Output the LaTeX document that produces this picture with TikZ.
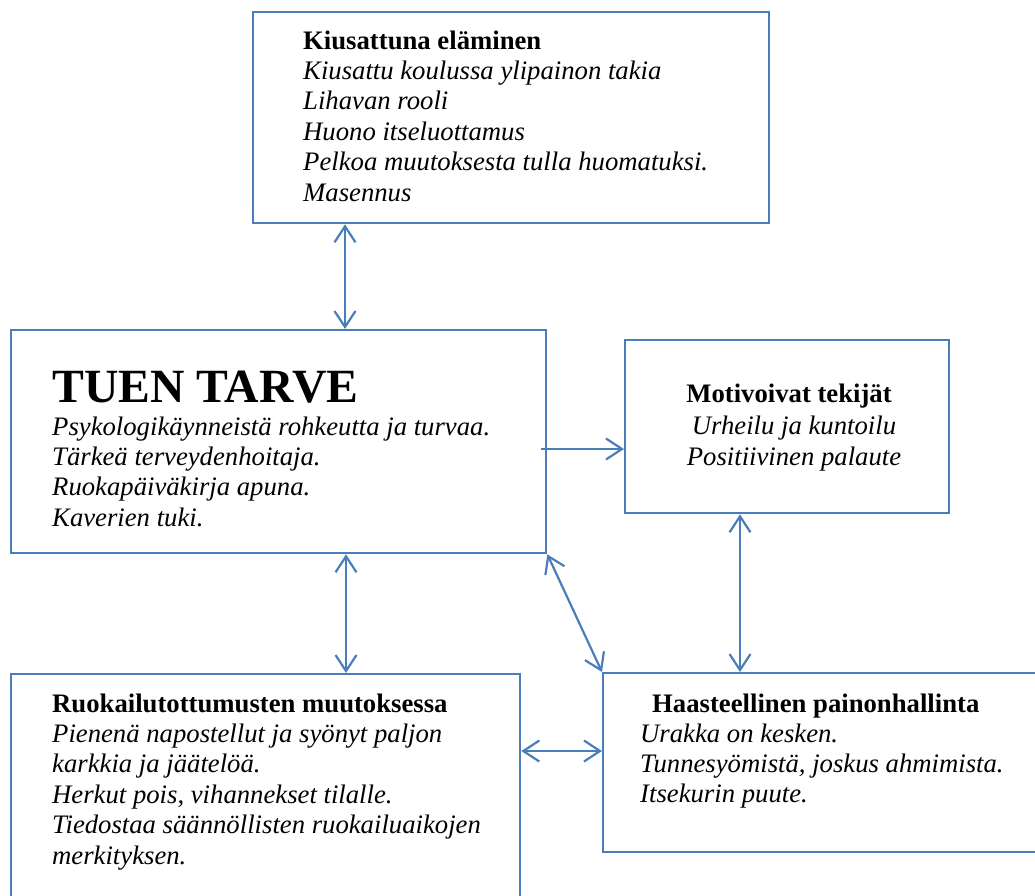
\documentclass[tikz,border=0pt]{standalone}
\usepackage{fontspec}
\setmainfont{Liberation Serif}
\usetikzlibrary{arrows.meta}
\definecolor{boxblue}{RGB}{74,126,187}
\begin{document}
\begin{tikzpicture}[x=1pt,y=-1pt,
  box/.style={draw=boxblue,line width=2.3pt,rectangle,inner sep=0pt,anchor=north west},
  barb/.tip={Straight Barb[length=16pt,width=21pt]},
  link/.style={draw=boxblue,line width=2.2pt,barb-barb},
  oneway/.style={draw=boxblue,line width=2.2pt,-barb},
  txt/.style={inner sep=0pt,anchor=base west,font=\fontsize{26.7}{30.4}\selectfont},
]
\useasboundingbox (0,0) rectangle (1035,895);
\clip (0,0) rectangle (1035,895);
% boxes
\node[box,minimum width=516pt,minimum height=211pt] (kius) at (252,11) {};
\node[box,minimum width=535pt,minimum height=223pt] (tuen) at (10,329) {};
\node[box,minimum width=324pt,minimum height=173pt] (motiv) at (624,339) {};
\node[box,minimum width=509pt,minimum height=240pt] (ruoka) at (10,673) {};
\node[box,minimum width=450pt,minimum height=179pt] (haast) at (602,672) {};
% texts
\node[txt] (kiust) at (303,49) {\begin{tabular}[t]{@{}l@{}}\textbf{Kiusattuna eläminen}\\
\itshape Kiusattu koulussa ylipainon takia\\
\itshape Lihavan rooli\\
\itshape Huono itseluottamus\\
\itshape Pelkoa muutoksesta tulla huomatuksi.\\
\itshape Masennus\end{tabular}};
\node[inner sep=0pt,anchor=base west,font=\fontsize{47.7}{52}\selectfont\bfseries] (tuent) at (52,402) {TUEN TARVE};
\node[txt] (tuenb) at (52,435) {\begin{tabular}[t]{@{}l@{}}\itshape Psykologikäynneistä rohkeutta ja turvaa.\\
\itshape Tärkeä terveydenhoitaja.\\
\itshape Ruokapäiväkirja apuna.\\
\itshape Kaverien tuki.\end{tabular}};
\node[inner sep=0pt,anchor=base,font=\fontsize{26.7}{31.5}\selectfont\bfseries] (motivt) at (789,402) {Motivoivat tekijät};
\node[inner sep=0pt,anchor=base,font=\fontsize{26.7}{31.5}\selectfont] (motivb) at (794,434) {\begin{tabular}[t]{@{}c@{}}\itshape Urheilu ja kuntoilu\\
\itshape Positiivinen palaute\end{tabular}};
\node[txt] (ruokat) at (52,712) {\begin{tabular}[t]{@{}l@{}}\textbf{Ruokailutottumusten muutoksessa}\\
\itshape Pienenä napostellut ja syönyt paljon\\
\itshape karkkia ja jäätelöä.\\
\itshape Herkut pois, vihannekset tilalle.\\
\itshape Tiedostaa säännöllisten ruokailuaikojen\\
\itshape merkityksen.\end{tabular}};
\node[txt,font=\fontsize{26.7}{30.4}\selectfont\bfseries] (haastt) at (652,712) {Haasteellinen painonhallinta};
\node[txt] (haastb) at (640,742) {\begin{tabular}[t]{@{}l@{}}\itshape Urakka on kesken.\\
\itshape Tunnesyömistä, joskus ahmimista.\\
\itshape Itsekurin puute.\end{tabular}};
% connectors
\coordinate (c1) at (345,0);
\coordinate (c2) at (541,449);
\coordinate (c3) at (740,0);
\coordinate (c4) at (346,0);
\coordinate (c5) at (0,751);
\draw[link] (kius.south -| c1) -- (tuen.north -| c1);
\draw[oneway] (c2) -- (motiv.west |- c2);
\draw[link] (motiv.south -| c3) -- (haast.north -| c3);
\draw[link] (tuen.south -| c4) -- (ruoka.north -| c4);
\draw[link] (tuen.south east) -- (haast.north west);
\draw[link] (ruoka.east |- c5) -- (haast.west |- c5);
\end{tikzpicture}
\end{document}
